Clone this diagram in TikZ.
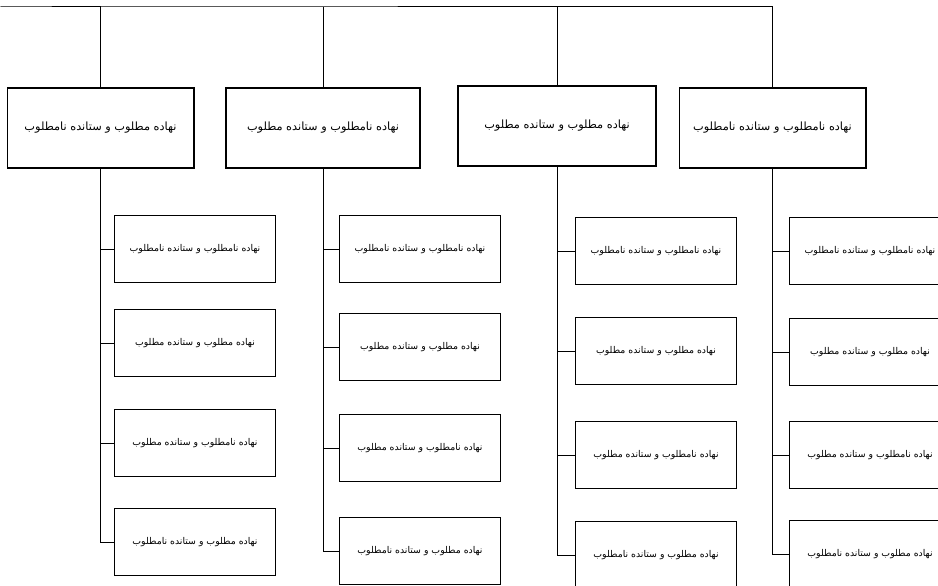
\documentclass[tikz,border=0pt]{standalone}
\usepackage{fontspec}
\newfontfamily\arabicfont[Script=Arabic]{DejaVu Sans}
\TeXXeTstate=1
\newcommand{\fa}[1]{\arabicfont\beginR #1\endR}
\newcommand{\txtA}{نهاده مطلوب و ستانده نامطلوب}
\newcommand{\txtB}{نهاده نامطلوب و ستانده مطلوب}
\newcommand{\txtC}{نهاده مطلوب و ستانده مطلوب}
\newcommand{\txtD}{نهاده نامطلوب و ستانده نامطلوب}

\tikzset{every picture/.style={line width=0.75pt}}
\tikzset{
	topbox/.style={draw, line width=1pt, minimum height=60pt, inner sep=0.75pt, font=\fontsize{8.5}{10}\selectfont},
	subbox/.style={draw, line width=1pt, minimum width=121pt, minimum height=50pt, inner sep=0.75pt, font=\fontsize{7}{9}\selectfont},
}

\begin{document}
\begin{tikzpicture}[x=0.75pt,y=0.75pt,yscale=-1,xscale=1]
		\useasboundingbox (0,0) rectangle (938,585);
		\clip (0,0) rectangle (938,585);
		
		%top row
		\node[topbox, minimum width=140pt] (p1) at (100.5,128) {\fa{\txtA}};
		\node[topbox, minimum width=145.5pt] (p2) at (323,128) {\fa{\txtB}};
		\node[topbox, minimum width=148.5pt] (p3) at (557,126) {\fa{\txtC}};
		\node[topbox, minimum width=140pt] (p4) at (772.5,128) {\fa{\txtD}};
		
		%bus line over the top row
		\coordinate (bus) at (0,7);
		\draw (p1.north) |- (bus) -| (p4.north);
		\draw (p2.north) -- (p2.north |- bus);
		\draw (p3.north) -- (p3.north |- bus);
		
		%second level, same four boxes under each column
		\foreach \k/\cx/\ya/\yb/\yc/\yd in {1/195/249/343/443/542, 2/420/249/347/448/551, 3/656/251/351/455/555, 4/870/251/352/455/554}{
			\node[subbox] (c\k-1) at (\cx,\ya) {\fa{\txtD}};
			\node[subbox] (c\k-2) at (\cx,\yb) {\fa{\txtC}};
			\node[subbox] (c\k-3) at (\cx,\yc) {\fa{\txtB}};
			\node[subbox] (c\k-4) at (\cx,\yd) {\fa{\txtA}};
			\foreach \r in {1,...,4}
				\draw (p\k.south) |- (c\k-\r.west);
		}
		
	\end{tikzpicture}
\end{document}
